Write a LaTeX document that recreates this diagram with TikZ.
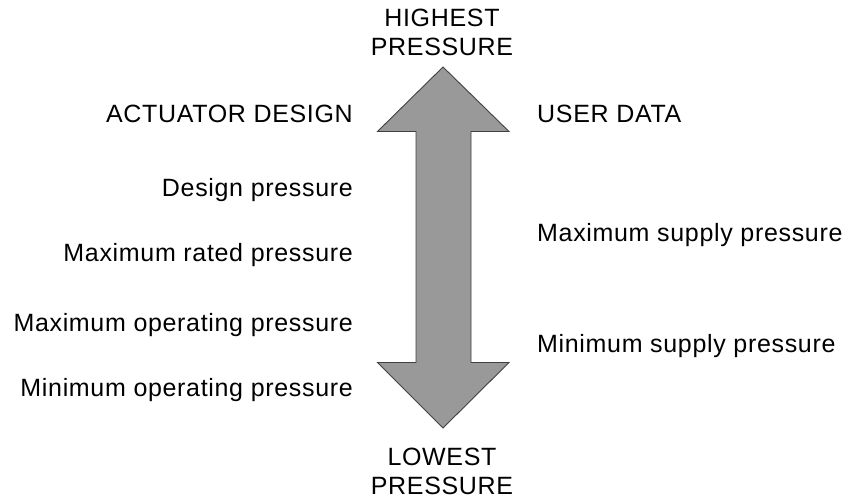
\documentclass[tikz,border=0pt]{standalone}
\usepackage{fontspec}
\setmainfont{Liberation Sans}[LetterSpace=2.7]
\begin{document}
\begin{tikzpicture}[x=1pt,y=-1pt,
  lbl/.style={inner sep=0pt,font=\fontsize{25}{29}\selectfont},
  arr/.style={fill=arrgray,draw=black!75,line width=0.9pt,line join=miter}]
\definecolor{arrgray}{HTML}{999999}
\useasboundingbox (0,0) rectangle (848,503);
\draw[arr] (443,67) -- (509,131.5) -- (471,131.5) -- (471,362.5) -- (509,362.5)
  -- (443,428) -- (377.5,362.5) -- (416,362.5) -- (416,131.5) -- (377.5,131.5) -- cycle;
\node[lbl,anchor=base] (hi1) at (442,27) {HIGHEST};
\node[lbl,anchor=base] (hi2) at (442,56) {PRESSURE};
\node[lbl,anchor=base] (lo1) at (442,465) {LOWEST};
\node[lbl,anchor=base] (lo2) at (442,494) {PRESSURE};
\node[lbl,anchor=base east] (ad) at (353,122) {ACTUATOR DESIGN};
\node[lbl,anchor=base east] (dp) at (353,196) {Design pressure};
\node[lbl,anchor=base east] (mr) at (353,261) {Maximum rated pressure};
\node[lbl,anchor=base east] (mo) at (353,331) {Maximum operating pressure};
\node[lbl,anchor=base east] (mi) at (353,396) {Minimum operating pressure};
\node[lbl,anchor=base west] (ud) at (537,122) {USER DATA};
\node[lbl,anchor=base west] (ms) at (537,241) {Maximum supply pressure};
\node[lbl,anchor=base west] (ns) at (537,352) {Minimum supply pressure};
\end{tikzpicture}
\end{document}
